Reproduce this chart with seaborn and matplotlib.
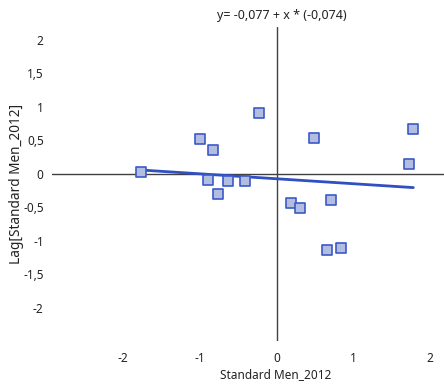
import matplotlib
matplotlib.use("Agg")
import matplotlib.pyplot as plt
import numpy as np
import pandas as pd
import seaborn as sns

# Standardised values and their spatial lag
std_men_2012 = [-1.77, -1.00, -0.83, -0.23, -0.89, -0.64, -0.42, -0.76,
                0.49, 0.18, 0.30, 0.71, 0.66, 0.84, 1.73, 1.78]
lag_std_men_2012 = [0.03, 0.51, 0.36, 0.91, -0.09, -0.11, -0.11, -0.31,
                    0.53, -0.44, -0.51, -0.39, -1.14, -1.11, 0.15, 0.66]

# Fitted regression: y = intercept + x * slope
intercept = -0.077
slope = -0.074

x_ticks = [-2, -1, 0, 1, 2]
y_ticks = [-2, -1.5, -1, -0.5, 0, 0.5, 1, 1.5, 2]

def fmt(v):
    s = f"{v:g}"
    return s.replace(".", ",")

sns.set_theme(style="white")
plt.rcParams["font.family"] = ["Noto Sans", "DejaVu Sans"]

fig = plt.figure(figsize=(4.44, 3.86), dpi=100)
ax = fig.add_axes([52 / 444, 1 - 341 / 386, 392 / 444, 314 / 386])

df = pd.DataFrame({"x": std_men_2012, "y": lag_std_men_2012})

# Cross-hair axes through the origin
ax.axhline(0, color="#404040", lw=1.0, zorder=1)
ax.axvline(0, color="#404040", lw=1.0, zorder=1)

# Regression line over the data range
xs = np.array([min(std_men_2012), max(std_men_2012)])
line_df = pd.DataFrame({"x": xs, "y": intercept + slope * xs})
sns.lineplot(data=line_df, x="x", y="y", ax=ax, color="#2f4fc2", lw=2.0, zorder=2)

sns.scatterplot(data=df, x="x", y="y", ax=ax, marker="s", s=45,
                color="#b3bde0", edgecolor="#3a5ac8", linewidth=1.2, zorder=3)

ax.set_xlim(-2.93, 2.18)
ax.set_ylim(-2.5, 2.19)
ax.set_xticks(x_ticks)
ax.set_xticklabels([fmt(v) for v in x_ticks])
ax.set_yticks(y_ticks)
ax.set_yticklabels([fmt(v) for v in y_ticks])
ax.tick_params(axis="both", length=0, labelsize=8.5, colors="#222222")
ax.tick_params(axis="x", pad=8)
ax.tick_params(axis="y", pad=6)
for sp in ax.spines.values():
    sp.set_visible(False)

ax.set_xlabel("Standard Men_2012", fontsize=8.5, color="#222222")
ax.xaxis.set_label_coords((276 - 52) / 392, -0.085)
ax.set_ylabel("Lag[Standard Men_2012]", fontsize=9.8, color="#222222")
ax.yaxis.set_label_coords(-0.072, 0.5)

fig.text(282 / 444, 1 - 16 / 386, "y= -0,077 + x * (-0,074)", ha="center",
         va="center", fontsize=9, color="#222222")

fig.savefig("out.png", dpi=100)
